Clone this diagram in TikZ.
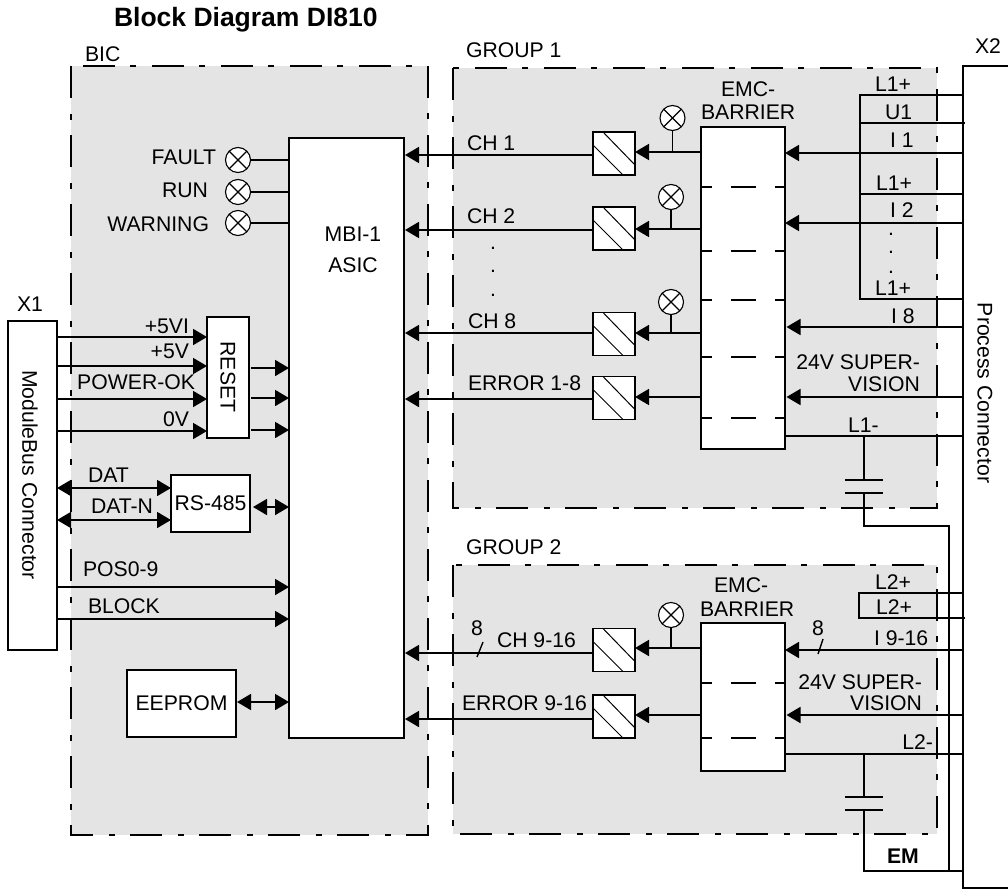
\documentclass[tikz,border=0pt]{standalone}
\usepackage{fontspec}
\setmainfont{Liberation Sans}
\usetikzlibrary{arrows.meta,positioning}
\definecolor{regiongray}{RGB}{228,228,228}
\tikzset{
  txt/.style={font=\fontsize{21.2}{23}\selectfont, inner sep=0pt, outer sep=0pt},
  lw/.style={txt, anchor=base west},
  le/.style={txt, anchor=base east},
  region/.style={fill=regiongray, line width=1.9pt, dash pattern=on 32pt off 16pt on 6pt off 15pt},
  blockbox/.style={draw, fill=white, inner sep=0pt, outer sep=0pt},
  optobox/.style={blockbox, minimum width=42pt, minimum height=43pt,
    path picture={
      \draw[line width=1pt] ([xshift=10pt]path picture bounding box.north west) -- ([yshift=10pt]path picture bounding box.south east);
      \draw[line width=1pt] ([yshift=-13pt]path picture bounding box.north west) -- ([xshift=-12pt]path picture bounding box.south east);
    }},
  lamp/.style={circle, draw, fill=white, line width=1.1pt, minimum size=25pt, inner sep=0pt, outer sep=0pt,
    path picture={
      \draw[line width=1.1pt] (path picture bounding box.north west) -- (path picture bounding box.south east);
      \draw[line width=1.1pt] (path picture bounding box.north east) -- (path picture bounding box.south west);
    }},
  sig/.style={-{Triangle[length=14pt,width=16pt]}},
  bus/.style={{Triangle[length=14pt,width=16pt]}-{Triangle[length=14pt,width=16pt]}}
}
\begin{document}
\begin{tikzpicture}[x=1pt, y=-1pt, line width=1.8pt]
    \useasboundingbox (0,0) rectangle (1008,889);
    % shaded regions
    \draw[region] (71,66) rectangle (428,835);
    \draw[region] (453,68) rectangle (937,508);
    \draw[region] (453,565) rectangle (937,834);

    % blocks
    \node[blockbox, minimum width=49pt, minimum height=329pt] (modbus) at (32.5,485.5) {};
    \node[txt, rotate=-90] (modbuslbl) at (30,475) {ModuleBus Connector};
    \node[blockbox, minimum width=115pt, minimum height=600pt] (mbi) at (346.5,438) {};
    \node[blockbox, minimum width=42pt, minimum height=121pt] (reset) at (228,377.5) {};
    \node[txt, rotate=-90] (resetlbl) at (228,377) {RESET};
    \node[blockbox, minimum width=79pt, minimum height=57pt] (rs) at (210.5,503.5) {\fontsize{21.2}{23}\selectfont RS-485};
    \node[blockbox, minimum width=109pt, minimum height=67pt] (eeprom) at (181.5,703.5) {\fontsize{21.2}{23}\selectfont EEPROM};
    \node[blockbox, minimum width=84pt, minimum height=322pt] (emca) at (743,288) {};
    \node[blockbox, minimum width=84pt, minimum height=148pt] (emcb) at (743,697) {};

    \node[optobox] (opto1) at (614,153.5) {};
    \node[optobox] (opto2) at (614,228.5) {};
    \node[optobox] (opto3) at (614,334) {};
    \node[optobox] (opto4) at (614,398) {};
    \node[optobox] (opto5) at (614,650) {};
    \node[optobox] (opto6) at (614,716.5) {};

    \node[lamp] (fault) at (238,160) {};
    \node[lamp] (run) at (238,192) {};
    \node[lamp] (warn) at (238,223) {};
    \node[lamp] (lamp1) at (672.5,118) {};
    \node[lamp] (lamp2) at (671,197) {};
    \node[lamp] (lamp3) at (671,302) {};
    \node[lamp] (lamp4) at (671,615) {};

    % process connector, open to the right
    \draw (1008,66) -- (963,66) -- (963,888) -- (1008,888);
    \coordinate (pc) at (963,477);

    % barrier separators
    \foreach \yy in {187,251,300,357,418,683,738} {
      \draw[line width=1.5pt] (701,\yy) -- (712,\yy);
      \draw[line width=1.5pt] (731,\yy) -- (756,\yy);
      \draw[line width=1.5pt] (775,\yy) -- (785,\yy);
    }

    % lamp lines
    \foreach \ll in {fault,run,warn}
      \draw (\ll.east) -- (\ll.east -| mbi.west);
    \draw (lamp1.south) -- (lamp1.south |- 0,152);
    \draw (lamp2.south) -- (lamp2.south |- 0,229);
    \draw (lamp3.south) -- (lamp3.south |- 0,333);
    \draw (lamp4.south) -- (lamp4.south |- 0,648);

    % module bus side
    \foreach \yy in {337,366,399,431}
      \draw[sig] (modbus.east |- 0,\yy) -- (reset.west |- 0,\yy);
    \foreach \yy in {368,398,430}
      \draw[sig] ([xshift=2pt]reset.east |- 0,\yy) -- (mbi.west |- 0,\yy);
    \foreach \yy in {488,520}
      \draw[bus] (modbus.east |- 0,\yy) -- (rs.west |- 0,\yy);
    \draw[bus] ([xshift=3pt]rs.east |- 0,507) -- (mbi.west |- 0,507);
    \draw[sig] (modbus.east |- 0,587) -- (mbi.west |- 0,587);
    \draw[sig] (modbus.east |- 0,619) -- (mbi.west |- 0,619);
    \draw[bus] ([xshift=1pt]eeprom.east |- 0,702) -- (mbi.west |- 0,702);

    % channels to the asic
    \draw[sig] (opto1.west |- 0,155) -- ([xshift=1pt]mbi.east |- 0,155);
    \draw[sig] (opto2.west |- 0,230) -- ([xshift=1pt]mbi.east |- 0,230);
    \draw[sig] (opto3.west |- 0,333) -- ([xshift=1pt]mbi.east |- 0,333);
    \draw[sig] (opto4.west |- 0,399) -- ([xshift=1pt]mbi.east |- 0,399);
    \draw[sig] (opto5.west |- 0,653) -- ([xshift=1pt]mbi.east |- 0,653);
    \draw[sig] (opto6.west |- 0,719) -- ([xshift=1pt]mbi.east |- 0,719);
    \draw[line width=1.4pt] (477,657) -- (483,642);

    % barrier to opto
    \draw[sig] (emca.west |- 0,152) -- (opto1.east |- 0,152);
    \draw[sig] (emca.west |- 0,229) -- (opto2.east |- 0,229);
    \draw[sig] (emca.west |- 0,333) -- (opto3.east |- 0,333);
    \draw[sig] (emca.west |- 0,397) -- (opto4.east |- 0,397);
    \draw[sig] (emcb.west |- 0,648) -- (opto5.east |- 0,648);
    \draw[sig] (emcb.west |- 0,715) -- (opto6.east |- 0,715);

    % process side
    \foreach \yy in {153,223}
      \draw[sig] (pc |- 0,\yy) -- (emca.east |- 0,\yy);
    \foreach \yy in {327,397}
      \draw[sig] (pc |- 0,\yy) -- ([xshift=1.5pt]emca.east |- 0,\yy);
    \draw[sig] (pc |- 0,650) -- (emcb.east |- 0,650);
    \draw[sig] (pc |- 0,715) -- ([xshift=1.5pt]emcb.east |- 0,715);
    \draw[line width=1.4pt] (818,654) -- (823,639);

    \coordinate (railtop) at (860,95);
    \coordinate (railbot) at (860,299);
    \draw (pc |- railtop) -- (railtop) -- (railbot) -- (pc |- railbot);
    \draw (railtop |- 0,123) -- (965,123);
    \draw (railtop |- 0,194) -- (pc |- 0,194);
    \coordinate (railb) at (859,593);
    \draw (pc |- railb) -- (railb) -- (859,618) -- (965,618);

    % supply returns and capacitors
    \draw (emca.east |- 0,436) -- (pc |- 0,436);
    \draw (emcb.east |- 0,754) -- (pc |- 0,754);
    \draw (864,436) -- (864,480);
    \draw (845,480) -- (883,480);
    \draw (845,493) -- (883,493);
    \draw (864,493) -- (864,526) -- (949,526) -- (949,871);
    \draw (864,754) -- (864,797);
    \draw (845,797) -- (883,797);
    \draw (845,810) -- (883,810);
    \draw (864,810) -- (864,871) -- (pc |- 0,871);

    % texts
    \node[lw, font=\fontsize{26.5}{28}\selectfont\bfseries] (title) at (114,26) {Block Diagram DI810};
    \node[lw] (biclbl) at (85,61) {BIC};
    \node[lw] (grpa) at (466,57) {GROUP 1};
    \node[lw] (grpb) at (466,554) {GROUP 2};
    \node[lw] (xa) at (17,311) {X1};
    \node[lw] (xb) at (975,53) {X2};
    \node[le] (faultlbl) at (216,164) {FAULT};
    \node[le] (runlbl) at (208,197) {RUN};
    \node[le] (warnlbl) at (209,231) {WARNING};
    \node[txt, anchor=base] (mbilbl) at (353,241) {MBI-1};
    \node[txt, anchor=base] (asiclbl) at (353,272) {ASIC};
    \node[le] (vilbl) at (189,333) {+5VI};
    \node[le] (vlbl) at (189,358) {+5V};
    \node[le] (oklbl) at (195,389) {POWER-OK};
    \node[le] (zerolbl) at (189,426) {0V};
    \node[lw] (datlbl) at (88,482) {DAT};
    \node[lw] (datnlbl) at (91,513) {DAT-N};
    \node[lw] (poslbl) at (83,576) {POS0-9};
    \node[lw] (blocklbl) at (88,613) {BLOCK};
    \node[lw] (cha) at (467,150) {CH 1};
    \node[lw] (chb) at (467,223) {CH 2};
    \node[lw] (chc) at (468,328) {CH 8};
    \node[lw] (erra) at (468,390) {ERROR 1-8};
    \node[lw] (chd) at (497,647) {CH 9-16};
    \node[lw] (errb) at (462,710) {ERROR 9-16};
    \node[lw] (nla) at (471,635) {8};
    \node[lw] (nlb) at (812,635) {8};
    \foreach \yy [count=\ii] in {249,272,296}
      \node[txt, anchor=base] (dota\ii) at (493,\yy) {.};
    \foreach \yy [count=\ii] in {235,253,273}
      \node[txt, anchor=base] (dotb\ii) at (891,\yy) {.};
    \node[lw] (emcla) at (721,96) {EMC-};
    \node[lw] (barla) at (701,119) {BARRIER};
    \node[lw] (emclb) at (714,592) {EMC-};
    \node[lw] (barlb) at (700,616) {BARRIER};
    \node[lw] (laa) at (875,91) {L1+};
    \node[lw] (ua) at (885,119) {U1};
    \node[lw] (ia) at (890,147) {I 1};
    \node[lw] (lab) at (876,190) {L1+};
    \node[lw] (ib) at (890,217) {I 2};
    \node[lw] (lac) at (875,295) {L1+};
    \node[lw] (ic) at (891,323) {I 8};
    \node[le] (supa) at (920,369) {24V SUPER-};
    \node[le] (visa) at (920,391) {VISION};
    \node[lw] (lminus) at (848,432) {L1-};
    \node[lw] (lba) at (875,589) {L2+};
    \node[lw] (lbb) at (876,614) {L2+};
    \node[lw] (id) at (874,645) {I 9-16};
    \node[le] (supb) at (922,689) {24V SUPER-};
    \node[le] (visb) at (922,710) {VISION};
    \node[le] (lbminus) at (933,749) {L2-};
    \node[lw, font=\fontsize{21.2}{23}\selectfont\bfseries] (em) at (887,863) {EM};
    \node[txt, rotate=-90] (pclbl) at (985,393) {Process Connector};
\end{tikzpicture}
\end{document}
